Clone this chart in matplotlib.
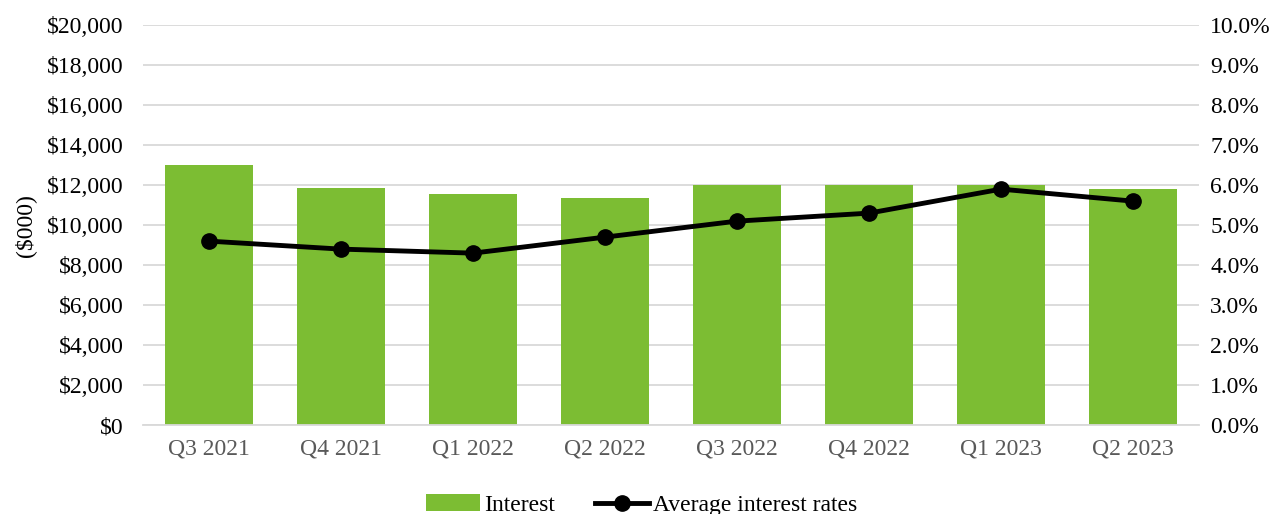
import matplotlib.pyplot as plt
import numpy as np
from matplotlib.ticker import FuncFormatter, MultipleLocator

plt.rcParams['font.family'] = ['Liberation Serif', 'DejaVu Serif']
plt.rcParams['font.size'] = 17

quarters = ['Q3 2021', 'Q4 2021', 'Q1 2022', 'Q2 2022', 'Q3 2022', 'Q4 2022', 'Q1 2023', 'Q2 2023']
interest = [13000, 11850, 11570, 11350, 12030, 12020, 12020, 11820]
avg_rates = [4.6, 4.4, 4.3, 4.7, 5.1, 5.3, 5.9, 5.6]

fig = plt.figure(figsize=(12.83, 5.14), dpi=100)
ax = fig.add_axes([0.1115, 0.173, 0.823, 0.778])
x = np.arange(len(quarters))

ax.bar(x, interest, width=0.667, color='#7cbd33', label='Interest', zorder=2)
ax.set_ylim(0, 20000)
ax.set_xlim(-0.5, len(quarters) - 0.5)
ax.yaxis.set_major_locator(MultipleLocator(2000))
ax.yaxis.set_major_formatter(FuncFormatter(lambda v, p: f'${v:,.0f}'))
ax.grid(axis='y', color='#d9d9d9', linewidth=1.3, zorder=0)
ax.set_axisbelow(True)
ax.set_xticks(x)
ax.set_xticklabels(quarters, color='#595959')
ax.tick_params(axis='both', length=0)
ax.tick_params(axis='y', pad=14)
ax.tick_params(axis='x', pad=10)
for s in ['top', 'right', 'left']:
    ax.spines[s].set_visible(False)
ax.spines['bottom'].set_color('#d9d9d9')
ax.spines['bottom'].set_linewidth(1.3)
ax.set_ylabel('($000)', labelpad=8)

ax2 = ax.twinx()
ax2.plot(x, avg_rates, color='black', linewidth=3.5, marker='o', markersize=11,
         label='Average interest rates', zorder=3)
ax2.set_ylim(0, 10)
ax2.yaxis.set_major_locator(MultipleLocator(1))
ax2.yaxis.set_major_formatter(FuncFormatter(lambda v, p: f'{v:.1f}%'))
ax2.tick_params(axis='y', length=0, pad=8)
for s in ['top', 'right', 'left', 'bottom']:
    ax2.spines[s].set_visible(False)

h1, l1 = ax.get_legend_handles_labels()
h2, l2 = ax2.get_legend_handles_labels()
fig.legend(h1 + h2, l1 + l2, loc='center', bbox_to_anchor=(0.5, 0.017), ncol=2,
           frameon=False, handlelength=2.3, handletextpad=0.15, columnspacing=1.7)

plt.savefig('out.png', dpi=100)
